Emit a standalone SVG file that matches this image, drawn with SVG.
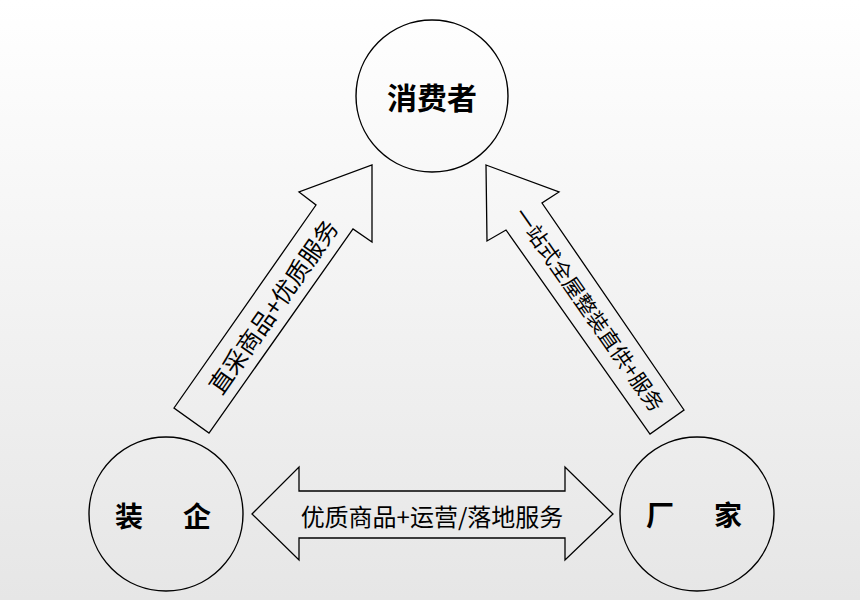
<svg xmlns="http://www.w3.org/2000/svg" width="860" height="600" viewBox="0 0 860 600">
<defs>
<linearGradient id="bg" x1="0" y1="0" x2="0" y2="1">
<stop offset="0" stop-color="#ffffff"/>
<stop offset="1" stop-color="#e6e6e6"/>
</linearGradient>
<style>
.node{fill:none;stroke:#000;stroke-width:1.4}
.arrow{fill:none;stroke:#000;stroke-width:1.3;stroke-linejoin:miter}
.title{font-family:"Noto Sans CJK SC","Noto Sans",sans-serif;font-weight:bold;fill:#000;text-anchor:middle;dominant-baseline:central}
.lbl{font-family:"Noto Sans CJK SC","Noto Sans",sans-serif;fill:#000;text-anchor:middle;dominant-baseline:central}
</style>
</defs>
<rect x="0" y="0" width="860" height="600" fill="url(#bg)"/>
<g id="connectors">
<g id="arrow-left">
<polygon class="arrow" points="174,408 316,205 299,192 372,165 372,242 353,229 209,433"/>
<text class="lbl" font-size="24" transform="translate(272,306) rotate(-55)">直采商品+优质服务</text>
</g>
<g id="arrow-right">
<polygon class="arrow" points="486,165 559,192 542,203 684,410 650,434 506,230 487,241"/>
<text class="lbl" font-size="21" transform="translate(590,309) rotate(55)">一站式全屋整装直供+服务</text>
</g>
<g id="arrow-bottom">
<polygon class="arrow" points="252,514 299,467 299,491 565,491 565,467 613,514 565,560 565,538 299,538 299,560"/>
<text class="lbl" font-size="24" x="432" y="515">优质商品+运营/落地服务</text>
</g>
</g>
<g id="node-consumer">
<circle class="node" cx="432" cy="96" r="76"/>
<text class="title" font-size="30" x="432" y="96">消费者</text>
</g>
<g id="node-decor">
<circle class="node" cx="166" cy="514" r="77"/>
<text class="title" font-size="28" x="166" y="515" letter-spacing="6">装　企</text>
</g>
<g id="node-factory">
<circle class="node" cx="697" cy="514" r="77"/>
<text class="title" font-size="28" x="697" y="514" letter-spacing="6">厂　家</text>
</g>
</svg>
